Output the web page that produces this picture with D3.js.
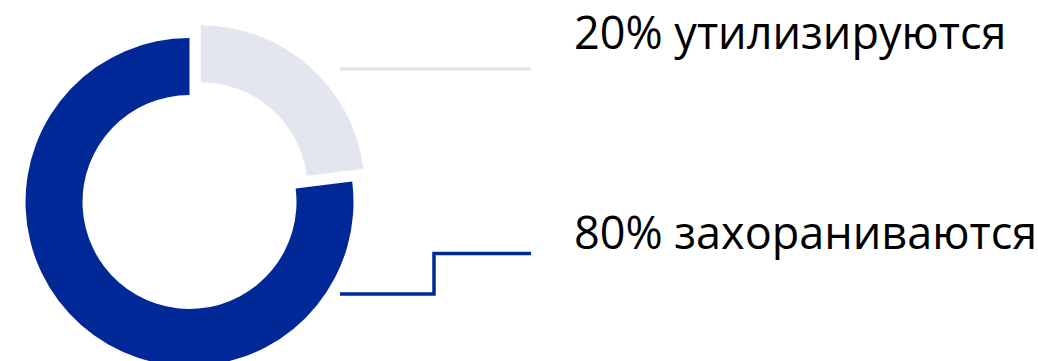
<!DOCTYPE html>
<html>
<head>
<meta charset="utf-8">
<script src="https://cdn.jsdelivr.net/npm/d3@7"></script>
<style>
  body { margin: 0; background: #fff; }
  svg text { font-family: "Open Sans", "Noto Sans", sans-serif; fill: #000; }
</style>
</head>
<body>
<svg id="chart" width="1038" height="361"></svg>
<script>
// shares as drawn (light arc ends at ~83 deg)
const categories = ["утилизируются", "захораниваются"];
const labels = ["20% утилизируются", "80% захораниваются"];
const shares = [23, 77];
const colors = ["#e3e6ee", "#002897"];

const svg = d3.select("#chart"),
    cx = 189.5,
    cy = 202,
    outerR = 164,
    innerR = 107,
    explode = 17;

const pie = d3.pie().sort(null).value(d => d);
const arc = d3.arc().innerRadius(innerR).outerRadius(outerR);

const g = svg.append("g").attr("transform", `translate(${cx},${cy})`);

g.selectAll("path.slice")
    .data(pie(shares))
    .enter().append("path")
    .attr("class", "slice")
    .attr("fill", (d, i) => colors[i])
    .attr("transform", (d, i) => {
        if (i !== 0) return null;
        const a = (d.startAngle + d.endAngle) / 2;
        return `translate(${Math.sin(a) * explode},${-Math.cos(a) * explode})`;
    })
    .attr("d", arc);

// leader lines
const leaders = [
    [[340, 69], [531, 69]],
    [[340, 294], [434, 294], [434, 253.5], [531, 253.5]]
];

svg.selectAll("path.leader")
    .data(leaders)
    .enter().append("path")
    .attr("class", "leader")
    .attr("fill", "none")
    .attr("stroke", (d, i) => colors[i])
    .attr("stroke-width", 3.5)
    .attr("d", d3.line());

const labelY = [49, 248.5];

svg.selectAll("text.label")
    .data(labels)
    .enter().append("text")
    .attr("class", "label")
    .attr("x", 574)
    .attr("y", (d, i) => labelY[i])
    .style("font-size", "45px")
    .text(d => d);
</script>
</body>
</html>
